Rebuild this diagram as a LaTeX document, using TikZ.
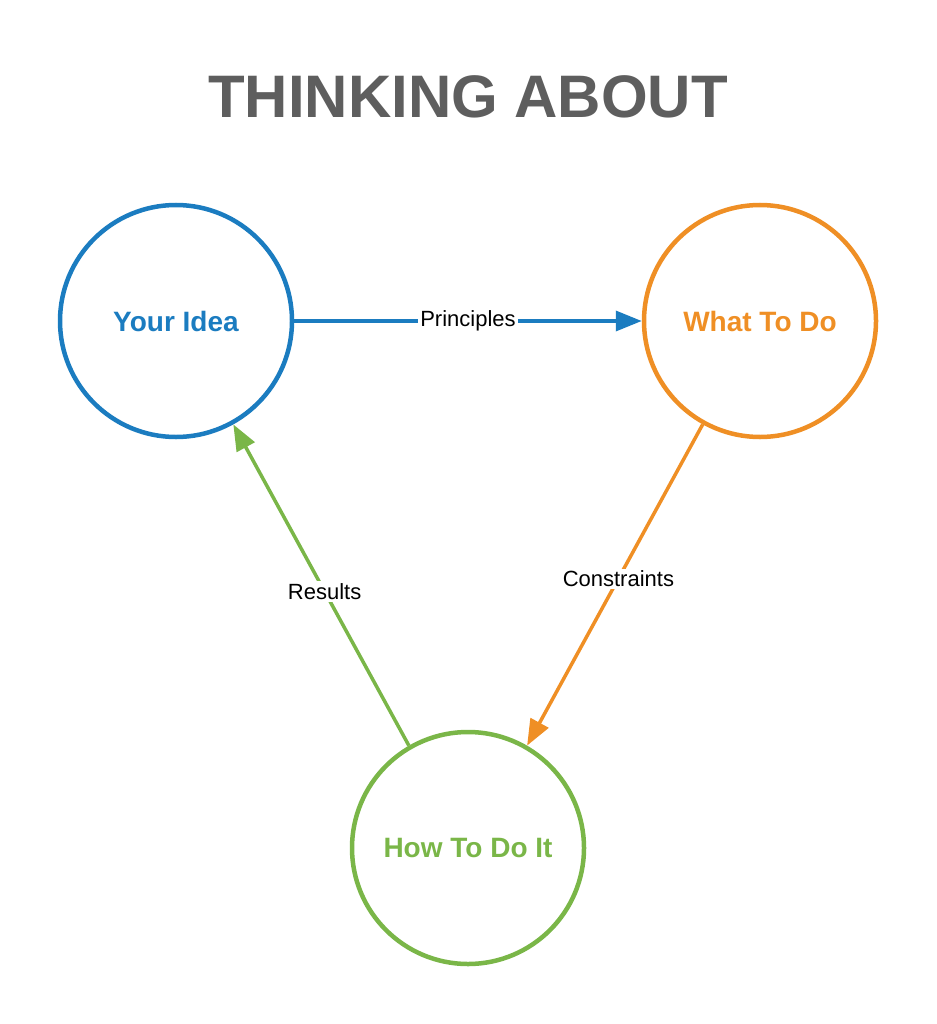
\documentclass[tikz,border=0pt]{standalone}
\usepackage{fontspec}
\setmainfont{Liberation Sans}
\usetikzlibrary{arrows.meta}
\definecolor{cblue}{HTML}{1B7CC0}
\definecolor{corange}{HTML}{EF8F25}
\definecolor{cgreen}{HTML}{7AB648}
\definecolor{cgray}{HTML}{5E5E5E}
\tikzset{
 circ/.style={circle,draw=#1,line width=4.5pt,minimum size=232pt,inner sep=0pt,text=#1,font=\fontsize{28}{32}\selectfont\bfseries},
 conn/.style={draw=#1,line width=3.5pt,-{Triangle[length=26pt,width=20pt]}},
 lab/.style={fill=white,inner sep=2pt,text=black,font=\fontsize{22}{26}\selectfont}
}
\begin{document}
\begin{tikzpicture}[x=1pt,y=-1pt]
\useasboundingbox (0,0) rectangle (936,1024);
\node[text=cgray,font=\fontsize{60}{70}\selectfont\bfseries] (title) at (468,97) {THINKING ABOUT};
\node[circ=cblue] (idea) at (176,321) {Your Idea};
\node[circ=corange] (what) at (760,321) {What To Do};
\node[circ=cgreen] (how) at (468,848) {How To Do It};
\draw[conn=cblue] (idea) -- node[lab]{Principles} (what);
\draw[conn=corange] (what.-119) -- node[lab,pos=0.48]{Constraints} (how.60);
\draw[conn=cgreen] (how.120) -- node[lab,pos=0.48]{Results} (idea.-61);
\end{tikzpicture}
\end{document}
